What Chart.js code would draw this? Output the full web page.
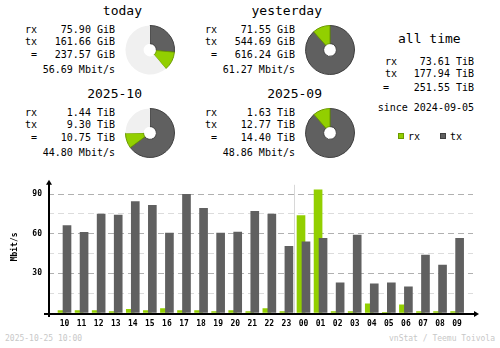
<!DOCTYPE html>
<html>
<head>
<meta charset="utf-8">
<script src="https://cdn.jsdelivr.net/npm/chart.js@4/dist/chart.umd.min.js"></script>
<style>
html, body { margin: 0; padding: 0; background: #fff; }
#page { position: relative; width: 500px; height: 348px; overflow: hidden;
        font-family: "DejaVu Sans Mono", monospace; color: #000; }
.t { position: absolute; white-space: pre; font-size: 10px; line-height: 12px; }
.h { position: absolute; white-space: pre; font-size: 13px; line-height: 16px; }
.f { position: absolute; white-space: pre; font-size: 8px; line-height: 10px; color: #c8c8c8; }
.sq { position: absolute; width: 4px; height: 4px; border: 1px solid #000; }
.donut { position: absolute; }
#bars { position: absolute; left: 0; top: 170px; }
</style>
</head>
<body>
<div id="page">
  <canvas id="bars" width="500" height="160"></canvas>
</div>
<script>
// hourly traffic, last 24h
const hours = ['10','11','12','13','14','15','16','17','18','19','20','21','22','23',
               '00','01','02','03','04','05','06','07','08','09'];
const rxRate = [1.75, 1.75, 1.75, 1.0, 2.75, 1.75, 3.25, 1.75, 1.75, 1.0, 1.75, 1.0,
                3.25, 1.0, 73.75, 93.25, 1.0, 1.0, 7.0, 0.2, 6.25, 1.0, 1.0, 1.0];
const txRate = [66.2, 61.0, 74.75, 74.0, 84.25, 81.5, 60.5, 89.75, 79.25, 60.5, 61.25, 77.0,
                74.75, 50.5, 53.75, 56.5, 22.75, 59.0, 22.0, 22.75, 19.75, 43.75, 36.25, 56.5];
const yLabels = [30, 60, 90];

// summary blocks
const periods = ['today', 'yesterday', '2025-10', '2025-09'];
const periodRx = ['75.90 GiB', '71.55 GiB', '1.44 TiB', '1.63 TiB'];
const periodTx = ['161.66 GiB', '544.69 GiB', '9.30 TiB', '12.77 TiB'];
const periodTotal = ['237.57 GiB', '616.24 GiB', '10.75 TiB', '14.40 TiB'];
const periodRate = ['56.69 Mbit/s', '61.27 Mbit/s', '44.80 Mbit/s', '48.86 Mbit/s'];
const donutTx = [161.66, 544.69, 9.30, 12.77];
const donutRx = [75.90, 71.55, 1.44, 1.63];
const donutLeft = [375, 0, 3.6, 0];

const allTimeValues = ['73.61 TiB', '177.94 TiB', '251.55 TiB'];
const sinceText = 'since 2024-09-05';
const stamp = '2025-10-25 10:00';
const credit = 'vnStat / Teemu Toivola';

const RX = '#92cf00', TX = '#606060', REST = '#f0f0f0';
const RX_EDGE = '#6b9900', TX_EDGE = '#404040';

const page = document.getElementById('page');
function txt(cls, s, x, y, right) {
    const d = document.createElement('div');
    d.className = cls;
    d.textContent = s;
    d.style.top = y + 'px';
    if (right) d.style.right = (500 - x) + 'px';
    else d.style.left = x + 'px';
    page.appendChild(d);
    return d;
}

const blockX = [0, 180, 0, 180];
const blockY = [0, 0, 83, 83];

periods.forEach((name, k) => {
    const bx = blockX[k], by = blockY[k];
    txt('h', name, bx + 142, by + 3, true);
    txt('t', 'rx', bx + 37, by + 24, true);
    txt('t', 'tx', bx + 37, by + 36, true);
    txt('t', '=', bx + 37, by + 49, true);
    txt('t', periodRx[k], bx + 115, by + 24, true);
    txt('t', periodTx[k], bx + 115, by + 36, true);
    txt('t', periodTotal[k], bx + 115, by + 49, true);
    txt('t', periodRate[k], bx + 115, by + 64, true);

    const c = document.createElement('canvas');
    c.className = 'donut';
    c.width = 52; c.height = 52;
    c.style.left = (bx + 150 - 26) + 'px';
    c.style.top = (by + 49.5 - 26) + 'px';
    page.appendChild(c);
    new Chart(c, {
        type: 'doughnut',
        data: {
            labels: ['tx', 'rx', ''],
            datasets: [{
                data: [donutTx[k], donutRx[k], donutLeft[k]],
                backgroundColor: [TX, RX, REST],
                borderColor: [TX_EDGE, RX_EDGE, REST],
                borderWidth: [1, 1, 0],
            }],
        },
        options: {
            responsive: false,
            animation: false,
            events: [],
            radius: 24.5,
            cutout: '26%',
            plugins: { legend: { display: false }, tooltip: { enabled: false } },
        },
    });
});

// all time
txt('h', 'all time', 398, 31);
txt('t', 'rx', 385, 56);
txt('t', 'tx', 385, 68);
txt('t', '=', 383, 82);
allTimeValues.forEach((v, i) => txt('t', v, 474, [56, 68, 82][i], true));
txt('t', sinceText, 474, 102, true);

// legend
const sqRx = txt('sq', '', 398, 133);
sqRx.style.background = RX; sqRx.style.borderColor = RX_EDGE;
txt('t', 'rx', 408, 131);
const sqTx = txt('sq', '', 440, 133);
sqTx.style.background = TX; sqTx.style.borderColor = TX_EDGE;
txt('t', 'tx', 450, 131);

txt('f', stamp, 5, 334);
txt('f', credit, 495, 334, true);

// axes with arrows + day change marker
const axesPlugin = {
    id: 'axes',
    beforeDatasetsDraw(chart) {
        const { ctx, chartArea: a, scales: { x } } = chart;
        const sx = Math.floor(x.getPixelForValue(hours.indexOf('00') - 0.5)) + 0.5;
        ctx.save();
        ctx.strokeStyle = '#d8d8d8';
        ctx.lineWidth = 1;
        ctx.beginPath();
        ctx.moveTo(sx, a.top + 4);
        ctx.lineTo(sx, a.bottom);
        ctx.stroke();
        ctx.restore();
    },
    afterDatasetsDraw(chart) {
        const { ctx, chartArea: a } = chart;
        const ax = a.left + 1, ay = a.bottom + 1;
        ctx.save();
        ctx.strokeStyle = '#000';
        ctx.fillStyle = '#000';
        ctx.lineWidth = 2;
        ctx.beginPath();
        ctx.moveTo(ax, a.top + 2);
        ctx.lineTo(ax, ay + 3);
        ctx.moveTo(a.left - 4, ay);
        ctx.lineTo(a.right + 2, ay);
        ctx.stroke();
        ctx.beginPath();
        ctx.moveTo(ax, a.top - 1);
        ctx.lineTo(ax - 3, a.top + 4);
        ctx.lineTo(ax + 3, a.top + 4);
        ctx.closePath();
        ctx.fill();
        ctx.beginPath();
        ctx.moveTo(a.right + 6, ay);
        ctx.lineTo(a.right + 1, ay - 3);
        ctx.lineTo(a.right + 1, ay + 3);
        ctx.closePath();
        ctx.fill();
        ctx.restore();
    },
};

const shift = 0.146; // rx bar left of the hour, tx bar right of it
new Chart(document.getElementById('bars'), {
    type: 'bar',
    data: {
        datasets: [
            {
                label: 'tx',
                data: txRate.map((v, i) => ({ x: i + shift, y: v })),
                backgroundColor: TX,
            },
            {
                label: 'rx',
                data: rxRate.map((v, i) => ({ x: i - shift, y: v })),
                backgroundColor: RX,
            },
        ],
    },
    options: {
        responsive: false,
        animation: false,
        events: [],
        grouped: false,
        barThickness: 8,
        borderWidth: 0,
        layout: { padding: { left: 0, right: 27, top: 10, bottom: 0 } },
        plugins: { legend: { display: false }, tooltip: { enabled: false } },
        scales: {
            x: {
                type: 'linear',
                offset: false,
                min: -0.967,
                max: 23.93,
                afterBuildTicks: (s) => { s.ticks = hours.map((h, i) => ({ value: i })); },
                afterFit: (s) => { s.height = 17; },
                grid: { display: false, offset: false },
                border: { display: false },
                ticks: {
                    autoSkip: false,
                    maxRotation: 0,
                    padding: -2,
                    color: '#000',
                    font: { family: 'DejaVu Sans Mono', size: 8, weight: 'bold' },
                    callback: (v) => hours[v],
                },
            },
            y: {
                min: 0,
                max: 100,
                afterFit: (s) => { s.width = 48; },
                border: { display: false, dash: [6, 4] },
                grid: {
                    drawTicks: false,
                    color: (c) => {
                        const v = c.tick.value;
                        if (v === 0 || v === 100) return 'rgba(0,0,0,0)';
                        return yLabels.includes(v) ? '#b0b0b0' : '#dcdcdc';
                    },
                },
                ticks: {
                    stepSize: 15,
                    padding: 6,
                    color: '#000',
                    font: { family: 'DejaVu Sans Mono', size: 8, weight: 'bold' },
                    callback: (v) => (yLabels.includes(v) ? String(v) : ''),
                },
                title: {
                    display: true,
                    text: 'Mbit/s',
                    color: '#000',
                    padding: { top: 10, bottom: 0 },
                    font: { family: 'DejaVu Sans Mono', size: 8, weight: 'bold' },
                },
            },
        },
    },
    plugins: [axesPlugin],
});
</script>
</body>
</html>
